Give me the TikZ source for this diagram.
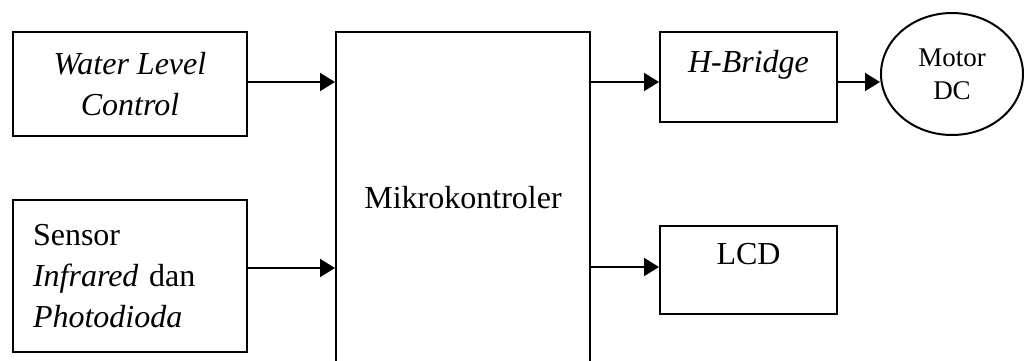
\documentclass[tikz,border=0pt]{standalone}
\usepackage{fontspec}
\setmainfont{Liberation Serif}
\usepackage{tikz}
\usetikzlibrary{arrows.meta, positioning, shapes.geometric}

\begin{document}
\begin{tikzpicture}[
      x=0.5pt, y=-0.5pt,
      font=\fontsize{16}{20.5}\selectfont,
      line width=1pt,
      block/.style={draw, rectangle, inner sep=0pt, align=center},
      flow/.style={-{Triangle[length=7.5pt, width=9pt]}},
    ]
    \useasboundingbox (0,0) rectangle (1024,360);
    % inputs
    \node[block, minimum width=117pt, minimum height=52pt] (wlc) at (130,84)
      {\textit{Water Level}\\\textit{Control}};
    \node[block, minimum width=117pt, minimum height=76pt, align=left,
          text width=97pt, inner xsep=10pt] (sensor) at (130,276)
      {Sensor\\\textit{Infrared} dan\\\textit{Photodioda}};
    % controller (runs past the bottom edge)
    \node[block, minimum width=127pt, minimum height=190pt] (mcu) at (463,222) {};
    \node (mcutxt) at (463,198) {Mikrokontroler};
    % outputs
    \node[block, minimum width=88.5pt, minimum height=45pt, text depth=16pt] (hb) at (748.5,77)
      {\textit{H-Bridge}};
    \node[draw, ellipse, inner sep=0pt, align=center, minimum width=71pt, minimum height=61pt,
          font=\fontsize{13.5}{16.5}\selectfont] (motor) at (952,74) {Motor\\DC};
    \node[block, minimum width=88.5pt, minimum height=44pt, text depth=16pt] (lcd) at (748.5,270)
      {LCD};
    \draw[flow] ([yshift=1pt]wlc.east) -- ([yshift=1pt]wlc.east -| mcu.west);
    \draw[flow] ([yshift=4pt]sensor.east) -- ([yshift=4pt]sensor.east -| mcu.west);
    \draw[flow] ([yshift=1pt]mcu.east |- wlc) -- ([yshift=1pt]hb.west |- wlc);
    \draw[flow] ([yshift=1pt]hb.east |- wlc) -- ([yshift=1pt]motor.west |- wlc);
    \draw[flow] ([yshift=1.5pt]mcu.east |- lcd) -- ([yshift=1.5pt]lcd.west);
  \end{tikzpicture}
\end{document}
